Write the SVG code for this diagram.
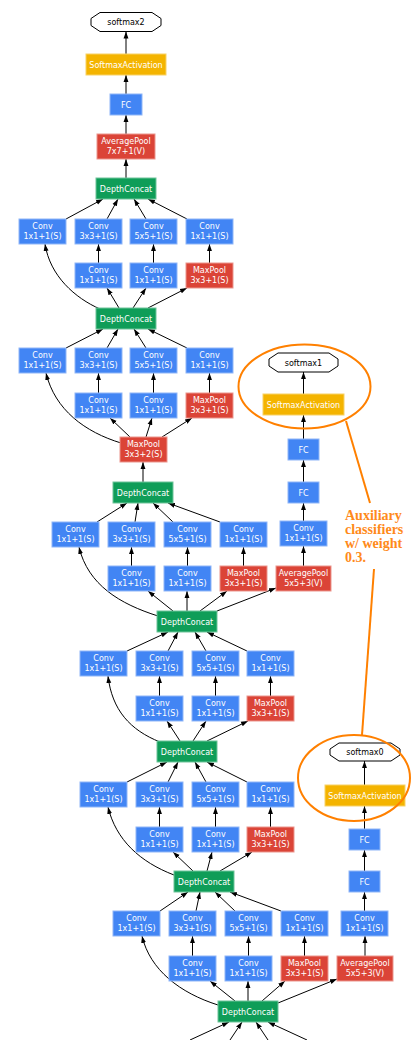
<svg xmlns="http://www.w3.org/2000/svg" width="412" height="1040" viewBox="0 0 412 1040">
<style>
.conv{fill:#4285f4;stroke:#8fb6f8;stroke-width:1}
.pool{fill:#db4437;stroke:#eb958d;stroke-width:1}
.cat{fill:#0f9d58;stroke:#6fc49a;stroke-width:1}
.act{fill:#f4b400;stroke:#f8d266;stroke-width:1}
.out{fill:#fff;stroke:#000;stroke-width:1}
text{font-family:"DejaVu Sans",sans-serif;font-size:8px;text-anchor:middle;fill:#fff}
text.dark{fill:#000}
.edges path{fill:none;stroke:#000;stroke-width:1;marker-end:url(#arr)}
.note{fill:none;stroke:#ff8000;stroke-width:2}
.notetext{font-family:"Liberation Serif",serif;font-weight:bold;font-size:14px;fill:#ff8a1a;text-anchor:start}
</style>
<defs>
<marker id="arr" viewBox="0 0 10 10" refX="10" refY="5" markerWidth="7" markerHeight="7" markerUnits="userSpaceOnUse" orient="auto">
<path d="M0,1.5 L10,5 L0,8.5 z" fill="#000"/>
</marker>
</defs>

<!-- connectors -->
<g id="edges" class="edges">
<!-- output head -->
<path d="M126,178 L126,159"/>
<path d="M126,134 L126,115"/>
<path d="M126,94 L126,75"/>
<path d="M126,54 L126,31.5"/>
<!-- inception 5b -->
<path d="M66,219 L103,199"/>
<path d="M107,219 L118,199"/>
<path d="M146,219 L134,199"/>
<path d="M187,219 L148,199"/>
<path d="M98.5,263 L98.5,244"/>
<path d="M153.5,263 L153.5,244"/>
<path d="M209.5,263 L209.5,244"/>
<path d="M100,309 C75,298 50,276 45,244"/>
<path d="M119,308 L107,288"/>
<path d="M133,308 L146,288"/>
<path d="M148,308 L187,288"/>
<!-- inception 5a -->
<path d="M66,348 L103,329"/>
<path d="M107,348 L118,329"/>
<path d="M146,348 L134,329"/>
<path d="M187,348 L148,329"/>
<path d="M98.5,393 L98.5,373"/>
<path d="M153.5,393 L153.5,373"/>
<path d="M209.5,393 L209.5,373"/>
<path d="M121,443 C85,432 55,410 46,373"/>
<path d="M130,437 L110,418"/>
<path d="M146,437 L152,418"/>
<path d="M162,437 L192,418"/>
<path d="M143,482 L143,462"/>
<!-- inception 4e -->
<path d="M97,522 L127,503"/>
<path d="M135,522 L138,503"/>
<path d="M173,522 L153,503"/>
<path d="M220,522 L168,503"/>
<path d="M131.5,566 L131.5,547"/>
<path d="M187.5,566 L187.5,547"/>
<path d="M243.5,566 L243.5,547"/>
<path d="M158,616 C120,604 88,585 79,547"/>
<path d="M173,611 L148,591"/>
<path d="M187,611 L187,591"/>
<path d="M200,611 L227,591"/>
<path d="M217,611 L276,588"/>
<!-- auxiliary head 1 -->
<path d="M303.5,566 L303.5,546"/>
<path d="M303.5,521 L303.5,503"/>
<path d="M303.5,482 L303.5,460"/>
<path d="M303.5,439 L303.5,415"/>
<path d="M303.5,394 L303.5,372"/>
<!-- inception 4d -->
<path d="M127,651 L168,632"/>
<path d="M168,651 L178,632"/>
<path d="M206,651 L195,632"/>
<path d="M247,651 L207,632"/>
<path d="M159.5,696 L159.5,676"/>
<path d="M215.5,696 L215.5,676"/>
<path d="M270.5,696 L270.5,676"/>
<path d="M160,742 C130,730 112,710 108,676"/>
<path d="M180,741 L167,721"/>
<path d="M193,741 L206,721"/>
<path d="M207,741 L248,721"/>
<!-- inception 4c -->
<path d="M127,782 L167,762"/>
<path d="M168,782 L178,762"/>
<path d="M206,782 L195,762"/>
<path d="M247,782 L207,762"/>
<path d="M159.5,827 L159.5,807"/>
<path d="M215.5,827 L215.5,807"/>
<path d="M270.5,827 L270.5,807"/>
<path d="M174,875 C140,862 116,840 108,807"/>
<path d="M193,871 L173,852"/>
<path d="M207,871 L212,852"/>
<path d="M220,871 L252,852"/>
<!-- inception 4b -->
<path d="M160,911 L188,892"/>
<path d="M196,911 L200,892"/>
<path d="M235,911 L215,892"/>
<path d="M281,911 L230,892"/>
<path d="M192.5,956 L192.5,936"/>
<path d="M248.5,956 L248.5,936"/>
<path d="M304.5,956 L304.5,936"/>
<path d="M365,956 L365,936"/>
<path d="M218,1005 C180,993 150,970 142,936"/>
<path d="M235,1001 L210,981"/>
<path d="M248,1001 L248,981"/>
<path d="M262,1001 L285,981"/>
<path d="M278,1003 L337,979"/>
<!-- auxiliary head 0 -->
<path d="M364.5,911 L364.5,892"/>
<path d="M364.5,871 L364.5,850"/>
<path d="M364.5,829 L364.5,806"/>
<path d="M364.5,785 L364.5,761"/>
<!-- inputs of inception 4a output -->
<path d="M190,1040 L229,1022"/>
<path d="M230,1040 L242,1022"/>
<path d="M268,1040 L256,1022"/>
<path d="M307,1040 L268,1022"/>
</g>

<!-- output head -->
<g id="softmax2"><polygon class="out" points="100,12.5 152,12.5 161,18.5 161,25.5 152,31.5 100,31.5 91,25.5 91,18.5"/><text class="dark" x="126" y="25">softmax2</text></g>
<g id="act2"><rect class="act" x="86" y="54" width="80" height="21"/><text x="126" y="67.5">SoftmaxActivation</text></g>
<g id="fc2"><rect class="conv" x="110" y="94" width="32" height="21"/><text x="126" y="107.5">FC</text></g>
<g id="avgpool7"><rect class="pool" x="97" y="134" width="58" height="25"/><text x="126" y="144">AveragePool</text><text x="126" y="154">7x7+1(V)</text></g>
<g id="concat5b"><rect class="cat" x="96" y="178" width="60" height="21"/><text x="126" y="191.5">DepthConcat</text></g>

<!-- inception 5b -->
<g id="i5b_1x1"><rect class="conv" x="19" y="219" width="47" height="25"/><text x="42.5" y="229">Conv</text><text x="42.5" y="239">1x1+1(S)</text></g>
<g id="i5b_3x3"><rect class="conv" x="75" y="219" width="47" height="25"/><text x="98.5" y="229">Conv</text><text x="98.5" y="239">3x3+1(S)</text></g>
<g id="i5b_5x5"><rect class="conv" x="130" y="219" width="47" height="25"/><text x="153.5" y="229">Conv</text><text x="153.5" y="239">5x5+1(S)</text></g>
<g id="i5b_proj"><rect class="conv" x="186" y="219" width="47" height="25"/><text x="209.5" y="229">Conv</text><text x="209.5" y="239">1x1+1(S)</text></g>
<g id="i5b_3x3r"><rect class="conv" x="75" y="263" width="47" height="25"/><text x="98.5" y="273">Conv</text><text x="98.5" y="283">1x1+1(S)</text></g>
<g id="i5b_5x5r"><rect class="conv" x="130" y="263" width="47" height="25"/><text x="153.5" y="273">Conv</text><text x="153.5" y="283">1x1+1(S)</text></g>
<g id="i5b_pool"><rect class="pool" x="186" y="263" width="47" height="25"/><text x="209.5" y="273">MaxPool</text><text x="209.5" y="283">3x3+1(S)</text></g>
<g id="concat5a"><rect class="cat" x="96" y="308" width="60" height="21"/><text x="126" y="321.5">DepthConcat</text></g>

<!-- inception 5a -->
<g id="i5a_1x1"><rect class="conv" x="19" y="348" width="47" height="25"/><text x="42.5" y="358">Conv</text><text x="42.5" y="368">1x1+1(S)</text></g>
<g id="i5a_3x3"><rect class="conv" x="75" y="348" width="47" height="25"/><text x="98.5" y="358">Conv</text><text x="98.5" y="368">3x3+1(S)</text></g>
<g id="i5a_5x5"><rect class="conv" x="130" y="348" width="47" height="25"/><text x="153.5" y="358">Conv</text><text x="153.5" y="368">5x5+1(S)</text></g>
<g id="i5a_proj"><rect class="conv" x="186" y="348" width="47" height="25"/><text x="209.5" y="358">Conv</text><text x="209.5" y="368">1x1+1(S)</text></g>
<g id="i5a_3x3r"><rect class="conv" x="75" y="393" width="47" height="25"/><text x="98.5" y="403">Conv</text><text x="98.5" y="413">1x1+1(S)</text></g>
<g id="i5a_5x5r"><rect class="conv" x="130" y="393" width="47" height="25"/><text x="153.5" y="403">Conv</text><text x="153.5" y="413">1x1+1(S)</text></g>
<g id="i5a_pool"><rect class="pool" x="186" y="393" width="47" height="25"/><text x="209.5" y="403">MaxPool</text><text x="209.5" y="413">3x3+1(S)</text></g>
<g id="pool4"><rect class="pool" x="120" y="437" width="47" height="25"/><text x="143.5" y="447">MaxPool</text><text x="143.5" y="457">3x3+2(S)</text></g>
<g id="concat4e"><rect class="cat" x="113" y="482" width="60" height="21"/><text x="143" y="495.5">DepthConcat</text></g>

<!-- inception 4e -->
<g id="i4e_1x1"><rect class="conv" x="52" y="522" width="47" height="25"/><text x="75.5" y="532">Conv</text><text x="75.5" y="542">1x1+1(S)</text></g>
<g id="i4e_3x3"><rect class="conv" x="108" y="522" width="47" height="25"/><text x="131.5" y="532">Conv</text><text x="131.5" y="542">3x3+1(S)</text></g>
<g id="i4e_5x5"><rect class="conv" x="164" y="522" width="47" height="25"/><text x="187.5" y="532">Conv</text><text x="187.5" y="542">5x5+1(S)</text></g>
<g id="i4e_proj"><rect class="conv" x="220" y="522" width="47" height="25"/><text x="243.5" y="532">Conv</text><text x="243.5" y="542">1x1+1(S)</text></g>
<g id="i4e_3x3r"><rect class="conv" x="108" y="566" width="47" height="25"/><text x="131.5" y="576">Conv</text><text x="131.5" y="586">1x1+1(S)</text></g>
<g id="i4e_5x5r"><rect class="conv" x="164" y="566" width="47" height="25"/><text x="187.5" y="576">Conv</text><text x="187.5" y="586">1x1+1(S)</text></g>
<g id="i4e_pool"><rect class="pool" x="220" y="566" width="47" height="25"/><text x="243.5" y="576">MaxPool</text><text x="243.5" y="586">3x3+1(S)</text></g>
<g id="concat4d"><rect class="cat" x="157" y="611" width="60" height="21"/><text x="187" y="624.5">DepthConcat</text></g>

<!-- auxiliary head 1 -->
<g id="aux1_pool"><rect class="pool" x="276" y="566" width="55" height="25"/><text x="303.5" y="576">AveragePool</text><text x="303.5" y="586">5x5+3(V)</text></g>
<g id="aux1_conv"><rect class="conv" x="280" y="521" width="47" height="25"/><text x="303.5" y="531">Conv</text><text x="303.5" y="541">1x1+1(S)</text></g>
<g id="aux1_fc1"><rect class="conv" x="288" y="482" width="31" height="21"/><text x="303.5" y="495.5">FC</text></g>
<g id="aux1_fc2"><rect class="conv" x="288" y="439" width="31" height="21"/><text x="303.5" y="452.5">FC</text></g>
<g id="aux1_act"><rect class="act" x="263" y="394" width="81" height="21"/><text x="303.5" y="407.5">SoftmaxActivation</text></g>
<g id="softmax1"><polygon class="out" points="278,353 329,353 338,359 338,366 329,372 278,372 269,366 269,359"/><text class="dark" x="303.5" y="365.5">softmax1</text></g>

<!-- inception 4d -->
<g id="i4d_1x1"><rect class="conv" x="80" y="651" width="47" height="25"/><text x="103.5" y="661">Conv</text><text x="103.5" y="671">1x1+1(S)</text></g>
<g id="i4d_3x3"><rect class="conv" x="136" y="651" width="47" height="25"/><text x="159.5" y="661">Conv</text><text x="159.5" y="671">3x3+1(S)</text></g>
<g id="i4d_5x5"><rect class="conv" x="192" y="651" width="47" height="25"/><text x="215.5" y="661">Conv</text><text x="215.5" y="671">5x5+1(S)</text></g>
<g id="i4d_proj"><rect class="conv" x="247" y="651" width="47" height="25"/><text x="270.5" y="661">Conv</text><text x="270.5" y="671">1x1+1(S)</text></g>
<g id="i4d_3x3r"><rect class="conv" x="136" y="696" width="47" height="25"/><text x="159.5" y="706">Conv</text><text x="159.5" y="716">1x1+1(S)</text></g>
<g id="i4d_5x5r"><rect class="conv" x="192" y="696" width="47" height="25"/><text x="215.5" y="706">Conv</text><text x="215.5" y="716">1x1+1(S)</text></g>
<g id="i4d_pool"><rect class="pool" x="247" y="696" width="47" height="25"/><text x="270.5" y="706">MaxPool</text><text x="270.5" y="716">3x3+1(S)</text></g>
<g id="concat4c"><rect class="cat" x="157" y="741" width="60" height="21"/><text x="187" y="754.5">DepthConcat</text></g>

<!-- inception 4c -->
<g id="i4c_1x1"><rect class="conv" x="80" y="782" width="47" height="25"/><text x="103.5" y="792">Conv</text><text x="103.5" y="802">1x1+1(S)</text></g>
<g id="i4c_3x3"><rect class="conv" x="136" y="782" width="47" height="25"/><text x="159.5" y="792">Conv</text><text x="159.5" y="802">3x3+1(S)</text></g>
<g id="i4c_5x5"><rect class="conv" x="192" y="782" width="47" height="25"/><text x="215.5" y="792">Conv</text><text x="215.5" y="802">5x5+1(S)</text></g>
<g id="i4c_proj"><rect class="conv" x="247" y="782" width="47" height="25"/><text x="270.5" y="792">Conv</text><text x="270.5" y="802">1x1+1(S)</text></g>
<g id="i4c_3x3r"><rect class="conv" x="136" y="827" width="47" height="25"/><text x="159.5" y="837">Conv</text><text x="159.5" y="847">1x1+1(S)</text></g>
<g id="i4c_5x5r"><rect class="conv" x="192" y="827" width="47" height="25"/><text x="215.5" y="837">Conv</text><text x="215.5" y="847">1x1+1(S)</text></g>
<g id="i4c_pool"><rect class="pool" x="247" y="827" width="47" height="25"/><text x="270.5" y="837">MaxPool</text><text x="270.5" y="847">3x3+1(S)</text></g>
<g id="concat4b"><rect class="cat" x="174" y="871" width="60" height="21"/><text x="204" y="884.5">DepthConcat</text></g>

<!-- inception 4b -->
<g id="i4b_1x1"><rect class="conv" x="113" y="911" width="47" height="25"/><text x="136.5" y="921">Conv</text><text x="136.5" y="931">1x1+1(S)</text></g>
<g id="i4b_3x3"><rect class="conv" x="169" y="911" width="47" height="25"/><text x="192.5" y="921">Conv</text><text x="192.5" y="931">3x3+1(S)</text></g>
<g id="i4b_5x5"><rect class="conv" x="225" y="911" width="47" height="25"/><text x="248.5" y="921">Conv</text><text x="248.5" y="931">5x5+1(S)</text></g>
<g id="i4b_proj"><rect class="conv" x="281" y="911" width="47" height="25"/><text x="304.5" y="921">Conv</text><text x="304.5" y="931">1x1+1(S)</text></g>
<g id="i4b_3x3r"><rect class="conv" x="169" y="956" width="47" height="25"/><text x="192.5" y="966">Conv</text><text x="192.5" y="976">1x1+1(S)</text></g>
<g id="i4b_5x5r"><rect class="conv" x="225" y="956" width="47" height="25"/><text x="248.5" y="966">Conv</text><text x="248.5" y="976">1x1+1(S)</text></g>
<g id="i4b_pool"><rect class="pool" x="281" y="956" width="47" height="25"/><text x="304.5" y="966">MaxPool</text><text x="304.5" y="976">3x3+1(S)</text></g>
<g id="concat4a"><rect class="cat" x="218" y="1001" width="60" height="21"/><text x="248" y="1014.5">DepthConcat</text></g>

<!-- auxiliary head 0 -->
<g id="aux0_pool"><rect class="pool" x="337" y="956" width="56" height="25"/><text x="365" y="966">AveragePool</text><text x="365" y="976">5x5+3(V)</text></g>
<g id="aux0_conv"><rect class="conv" x="341" y="911" width="47" height="25"/><text x="364.5" y="921">Conv</text><text x="364.5" y="931">1x1+1(S)</text></g>
<g id="aux0_fc1"><rect class="conv" x="349" y="871" width="31" height="21"/><text x="364.5" y="884.5">FC</text></g>
<g id="aux0_fc2"><rect class="conv" x="349" y="829" width="31" height="21"/><text x="364.5" y="842.5">FC</text></g>
<g id="aux0_act"><rect class="act" x="325" y="785" width="80" height="21"/><text x="365" y="798.5">SoftmaxActivation</text></g>
<g id="softmax0"><polygon class="out" points="339,743 391,743 400,749 400,755 391,761 339,761 330,755 330,749"/><text class="dark" x="365" y="755">softmax0</text></g>

<!-- annotation -->
<g id="annotation">
<ellipse class="note" cx="304.5" cy="386.5" rx="66" ry="42"/>
<ellipse class="note" cx="354" cy="778" rx="56" ry="43"/>
<path class="note" d="M346,421 L370,503"/>
<path class="note" d="M374,569 L362,735"/>
<text class="notetext" x="345" y="520">Auxiliary</text>
<text class="notetext" x="345" y="534">classifiers</text>
<text class="notetext" x="345" y="548">w/ weight</text>
<text class="notetext" x="345" y="562">0.3.</text>
</g>
</svg>
